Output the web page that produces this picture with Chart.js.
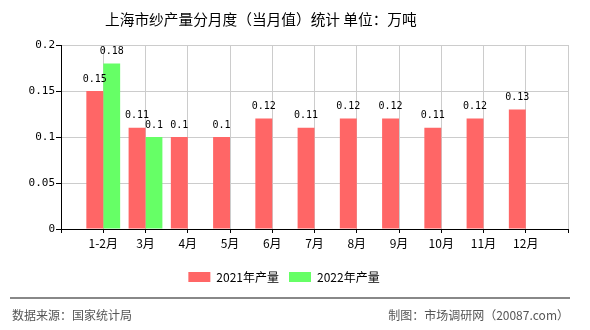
<!DOCTYPE html>
<html>
<head>
<meta charset="utf-8">
<script src="https://cdn.jsdelivr.net/npm/chart.js@4.4.0/dist/chart.umd.min.js"></script>
<style>
  body { margin: 0; background: #fff; }
  #wrap { position: relative; width: 590px; height: 330px; }
  #title { position: absolute; left: 105px; top: 8px; font: 14.7px "Noto Sans CJK SC", sans-serif; color: #000; white-space: nowrap; }
  #rule { position: absolute; left: 10px; top: 297px; width: 560px; height: 0; border-top: 2px solid #888; }
  .foot { position: absolute; top: 306px; font: 12px "Noto Sans CJK SC", sans-serif; color: #555; }
</style>
</head>
<body>
<div id="wrap">
  <canvas id="chart" width="590" height="330"></canvas>
  <div id="title">上海市纱产量分月度（当月值）统计 单位：万吨</div>
  <div id="rule"></div>
  <div class="foot" style="left:12px">数据来源：国家统计局</div>
  <div class="foot" style="right:21px">制图：市场调研网（20087.com）</div>
</div>
<script>
const months = ['1-2月', '3月', '4月', '5月', '6月', '7月', '8月', '9月', '10月', '11月', '12月'];
const output2021 = [0.15, 0.11, 0.1, 0.1, 0.12, 0.11, 0.12, 0.12, 0.11, 0.12, 0.13];
const output2022 = [0.18, 0.1, null, null, null, null, null, null, null, null, null];
const yTicks = [0, 0.05, 0.1, 0.15, 0.2];

// empty slot at each end so the months sit on the tick marks
const labels = [''].concat(months, ['']);
function pad(arr) { return [null].concat(arr, [null]); }

const monoFont = '"DejaVu Sans Mono", monospace';
Chart.defaults.font.family = '"Noto Sans CJK SC", sans-serif';
Chart.defaults.color = '#000';

const valueLabels = {
    id: 'valueLabels',
    afterDatasetsDraw(chart) {
        const ctx = chart.ctx;
        ctx.save();
        ctx.font = '10px ' + monoFont;
        ctx.fillStyle = '#000';
        ctx.textAlign = 'center';
        ctx.textBaseline = 'bottom';
        chart.data.datasets.forEach(function(ds, i) {
            chart.getDatasetMeta(i).data.forEach(function(bar, j) {
                const v = ds.data[j];
                if (v === null) return;
                ctx.fillText(String(v), bar.x, bar.y - 7);
            });
        });
        ctx.restore();
    }
};

new Chart(document.getElementById('chart'), {
    type: 'bar',
    data: {
        labels: labels,
        datasets: [{
            label: '2021年产量',
            data: pad(output2021),
            backgroundColor: '#ff6666'
        }, {
            label: '2022年产量',
            data: pad(output2022),
            backgroundColor: '#66ff66'
        }]
    },
    options: {
        responsive: false,
        animation: false,
        layout: { padding: { left: 0, right: 22, top: 45, bottom: 37 } },
        datasets: { bar: { categoryPercentage: 0.8, barPercentage: 1 } },
        plugins: {
            title: { display: false },
            legend: {
                position: 'bottom',
                labels: { boxWidth: 22, boxHeight: 10, font: { size: 12 }, padding: 10 }
            },
            tooltip: { enabled: false }
        },
        scales: {
            x: {
                offset: false,
                grid: { offset: false, color: '#ccc', tickColor: '#000', tickLength: 4 },
                border: { color: '#000' },
                ticks: { autoSkip: false, maxRotation: 0, padding: 3, font: { size: 12 } },
                afterFit: function(scale) { scale.height = 32; }
            },
            y: {
                min: 0,
                max: 0.2,
                grid: { color: '#ccc', tickColor: '#000', tickLength: 5 },
                border: { color: '#000' },
                afterBuildTicks: function(scale) {
                    scale.ticks = yTicks.map(function(v) { return { value: v }; });
                },
                ticks: {
                    padding: 1,
                    font: { size: 11, family: monoFont },
                    callback: function(v) { return String(+v.toFixed(2)); }
                },
                afterFit: function(scale) { scale.width = 61; }
            }
        }
    },
    plugins: [valueLabels]
});
</script>
</body>
</html>
